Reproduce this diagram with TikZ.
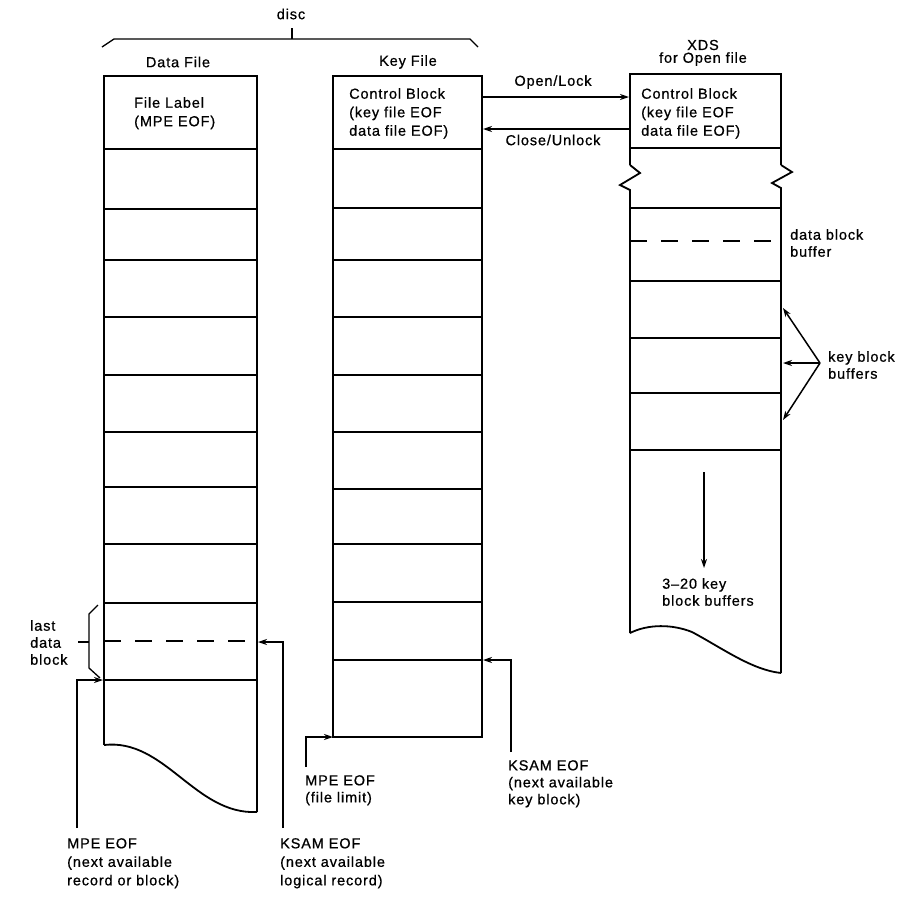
\documentclass[tikz,border=0pt]{standalone}
\usepackage{fontspec}
\setmainfont{Liberation Sans}[LetterSpace=6,FakeBold=0.7]
\usetikzlibrary{arrows.meta}
\begin{document}
\begin{tikzpicture}[x=1pt,y=-1pt,
  ln/.style={line width=1.8pt},
  thn/.style={line width=1.3pt},
  dsh/.style={line width=1.8pt, dash pattern=on 17pt off 14pt},
  arr/.style={line width=1.5pt, -{Stealth[length=9pt,width=6pt]}},
  lbl/.style={font=\fontsize{14.5}{17}\selectfont, inner sep=0pt, align=left},
  lblw/.style={lbl, font=\fontsize{14.5}{18.5}\selectfont},
]
\useasboundingbox (0,0) rectangle (919,911);

% ---------- Data File column ----------
\draw[ln] (104,745) -- (104,76) -- (257,76) -- (257,812);
\draw[ln] (104,745) .. controls (165,738) and (195,815) .. (257,812);
\foreach \y in {149,209,260,317,375,432,487,544,603,680} \draw[ln] (104,\y) -- (257,\y);
\draw[dsh] (104,641) -- (257,641);

% ---------- Key File column ----------
\draw[ln] (333,76) rectangle (482,737);
\foreach \y in {149,208,260,317,375,432,489,544,602,660} \draw[ln] (333,\y) -- (482,\y);

% ---------- XDS column ----------
\draw[ln] (630,165) -- (630,74) -- (781,74) -- (781,165);
\draw[ln] (630,165) -- (640,173) -- (620,185) -- (630,190) -- (630,633);
\draw[ln] (781,165) -- (792,172) -- (772,183) -- (781,188) -- (781,673);
\draw[ln] (630,633) .. controls (648,624) and (672,624) .. (692,632)
                    .. controls (722,648) and (752,670) .. (781,673);
\foreach \y in {148,208,281,338,393,450} \draw[ln] (630,\y) -- (781,\y);
\draw[dsh] (630,241) -- (781,241);

% ---------- braces ----------
\draw[thn] (102,47) -- (114,39) -- (470,39) -- (478,47);
\draw[thn] (292,39) -- (292,28);
\draw[thn] (98,605) -- (89,614) -- (89,668) -- (100,678);
\draw[thn] (78,642) -- (89,642);

% ---------- connector end points ----------
\coordinate (mpeLs) at (77,828);
\coordinate (mpeLe) at (103,680);
\coordinate (ksLs) at (283,828);
\coordinate (ksLe) at (258,642);
\coordinate (mpeMs) at (306,767);
\coordinate (mpeMe) at (333,737);
\coordinate (ksMs) at (511,752);
\coordinate (ksMe) at (483,660);
\coordinate (openS) at (482,97);
\coordinate (openE) at (629,97);
\coordinate (closeS) at (630,129);
\coordinate (closeE) at (483,129);
\coordinate (kbO) at (820,363);
\coordinate (kb1) at (783,308);
\coordinate (kb2) at (783,363);
\coordinate (kb3) at (783,420);
\coordinate (dnS) at (704,472);
\coordinate (dnE) at (704,568);

\draw[arr] (mpeLs) |- (mpeLe);
\draw[arr] (ksLs) |- (ksLe);
\draw[arr] (mpeMs) |- (mpeMe);
\draw[arr] (ksMs) |- (ksMe);
\draw[arr] (openS) -- (openE);
\draw[arr] (closeS) -- (closeE);
\draw[arr] (kbO) -- (kb1);
\draw[arr] (kbO) -- (kb2);
\draw[arr] (kbO) -- (kb3);
\draw[arr] (dnS) -- (dnE);

% ---------- labels ----------
\node[lbl] (disc) at (291,14) {disc};
\node[lbl] (dataf) at (178,62) {Data File};
\node[lbl] (keyf) at (408,62) {Key File};
\node[lbl] (xds) at (703,45) {XDS};
\node[lbl] (forop) at (703,59) {for Open file};
\node[lblw, anchor=north west] (flabel) at (134,97) {File Label\\(MPE EOF)};
\node[lblw, anchor=north west] (cbm) at (349,88) {Control Block\\(key file EOF\\data file EOF)};
\node[lblw, anchor=north west] (cbr) at (641,88) {Control Block\\(key file EOF\\data file EOF)};
\node[lbl] (openl) at (553,82) {Open/Lock};
\node[lbl] (closel) at (553,140) {Close/Unlock};
\node[lbl, anchor=north west] (dbb) at (790,229) {data block\\buffer};
\node[lbl, anchor=north west] (kbb) at (828,351) {key block\\buffers};
\node[lbl, anchor=north west] (kbn) at (662,578) {3–20 key\\block buffers};
\node[lbl, anchor=north west] (ldb) at (30,620) {last\\data\\block};
\node[lblw, anchor=north west] (mpel) at (67,838) {MPE EOF\\(next available\\record or block)};
\node[lblw, anchor=north west] (ksl) at (280,838) {KSAM EOF\\(next available\\logical record)};
\node[lbl, anchor=north west] (mpem) at (305,775) {MPE EOF\\(file limit)};
\node[lbl, anchor=north west] (ksm) at (508,760) {KSAM EOF\\(next available\\key block)};
\end{tikzpicture}
\end{document}
